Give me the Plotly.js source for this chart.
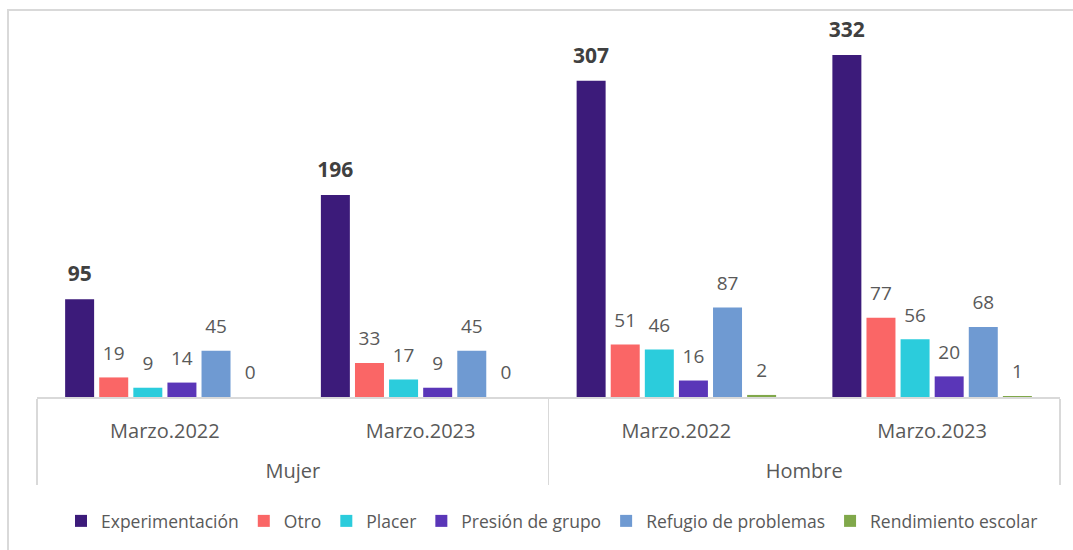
<!DOCTYPE html>
<html>
<head>
<meta charset="utf-8">
<script src="https://cdn.plot.ly/plotly-3.0.1.min.js"></script>
<style>html,body{margin:0;padding:0;background:#fff;}#chart{width:1073px;height:550px;}</style>
</head>
<body>
<div id="chart"></div>
<script>
const sexo = ['Mujer', 'Mujer', 'Hombre', 'Hombre'];
const periodo = ['Marzo.2022', 'Marzo.2023', 'Marzo.2022', 'Marzo.2023'];
const seriesNames = ['Experimentación', 'Otro', 'Placer', 'Presión de grupo', 'Refugio de problemas', 'Rendimiento escolar'];
const experimentacion = [95, 196, 307, 332];
const otro = [19, 33, 51, 77];
const placer = [9, 17, 46, 56];
const presion = [14, 9, 16, 20];
const refugio = [45, 45, 87, 68];
const rendimiento = [0, 0, 2, 1];
const colors = ['#3C1B7A', '#FA6666', '#2BCCDC', '#5A36B8', '#6F9AD2', '#80A84A'];

const values = [experimentacion, otro, placer, presion, refugio, rendimiento];
const FONT = '"Open Sans", "Noto Sans", sans-serif';

// outer labels get a leading blank line so they sit lower, as in the original
const outerLabels = sexo.map(s => '<br>' + s);

const traces = values.map((v, i) => ({
  type: 'bar',
  name: seriesNames[i],
  x: [outerLabels, periodo],
  y: v,
  marker: {color: colors[i], line: {width: 0}},
  textposition: 'outside',
  constraintext: 'none',
  cliponaxis: false,
  texttemplate: i === 0
    ? '<span style="font-size:21px;color:#404040"><b>%{y}</b></span><br>\u00a0'
    : '<span style="font-size:19px">%{y}</span><br>\u00a0',
  textfont: {family: FONT, size: 9, color: '#595959'},
  hoverinfo: 'y+name'
}));

const L = 37, R = 13, T = 20, B = 152;
const W = 1073, H = 550;
const pw = W - L - R, ph = H - T - B;
const px = v => (v - L) / pw;
const py = v => (H - B - v) / ph;

const layout = {
  width: W, height: H,
  margin: {l: L, r: R, t: T, b: B},
  paper_bgcolor: '#ffffff',
  plot_bgcolor: '#ffffff',
  barmode: 'group',
  bargap: 0.2,
  bargroupgap: 0.15,
  font: {family: FONT, color: '#595959'},
  showlegend: true,
  legend: {
    orientation: 'h',
    x: px(552), xanchor: 'center',
    y: py(521), yanchor: 'middle',
    font: {family: FONT, size: 17.5, color: '#595959'},
    itemclick: false, itemdoubleclick: false,
    traceorder: 'normal'
  },
  xaxis: {
    type: 'multicategory',
    showline: true,
    linecolor: '#D9D9D9',
    linewidth: 2,
    showgrid: false,
    zeroline: false,
    ticks: '',
    ticklabelstandoff: 15,
    showdividers: true,
    dividercolor: '#D9D9D9',
    dividerwidth: 1.5,
    tickfont: {family: FONT, size: 20, color: '#595959'},
    fixedrange: true
  },
  yaxis: {
    range: [0, 366],
    visible: false,
    showgrid: false,
    zeroline: false,
    fixedrange: true
  },
  shapes: [{
    type: 'rect', xref: 'paper', yref: 'paper', layer: 'below',
    x0: px(8), x1: px(1090), y0: py(570), y1: py(10),
    line: {color: '#D9D9D9', width: 2}, fillcolor: 'rgba(0,0,0,0)'
  }]
};

Plotly.newPlot('chart', traces, layout, {displayModeBar: false, staticPlot: true});
</script>
</body>
</html>
